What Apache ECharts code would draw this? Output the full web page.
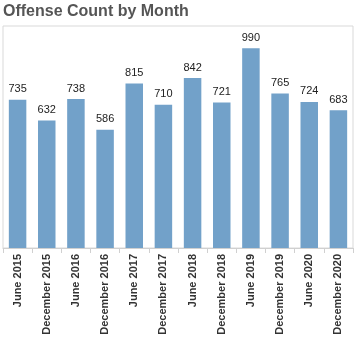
<!DOCTYPE html>
<html><head><meta charset="utf-8">
<script src="https://cdn.jsdelivr.net/npm/echarts@6/dist/echarts.min.js"></script>
<style>html,body{margin:0;padding:0;background:#fff}#c{width:360px;height:355px}</style>
</head><body><div id="c"></div>
<script>
const categories = ["June 2015","December 2015","June 2016","December 2016","June 2017","December 2017","June 2018","December 2018","June 2019","December 2019","June 2020","December 2020"];
const counts = [735,632,738,586,815,710,842,721,990,765,724,683];
const chart = echarts.init(document.getElementById('c'));
chart.setOption({
  animation:false,
  title:{text:'Offense Count by Month',left:3,top:4,padding:0,textStyle:{fontFamily:'Liberation Sans, Arial',fontSize:16,fontWeight:'bold',color:'#555'}},
  grid:{left:3,right:7,top:26,bottom:107,show:true,borderColor:'#d9d9d9',borderWidth:1,containLabel:false},
  xAxis:{type:'category',data:categories,
    axisLine:{lineStyle:{color:'#d0d0d0'}},
    axisTick:{show:true,interval:0,length:5,lineStyle:{color:'#d0d0d0'}},
    axisLabel:{interval:0,rotate:90,margin:6,fontFamily:'Liberation Sans, Arial',fontSize:11,fontWeight:'bold',color:'#333'}},
  yAxis:{type:'value',min:0,max:1100,show:false,splitLine:{show:false}},
  series:[{type:'bar',data:counts,barWidth:'60%',itemStyle:{color:'#72a1c9'},
    label:{show:true,position:'top',distance:5,fontFamily:'Liberation Sans, Arial',fontSize:11,color:'#222'}}]
});
</script></body></html>
